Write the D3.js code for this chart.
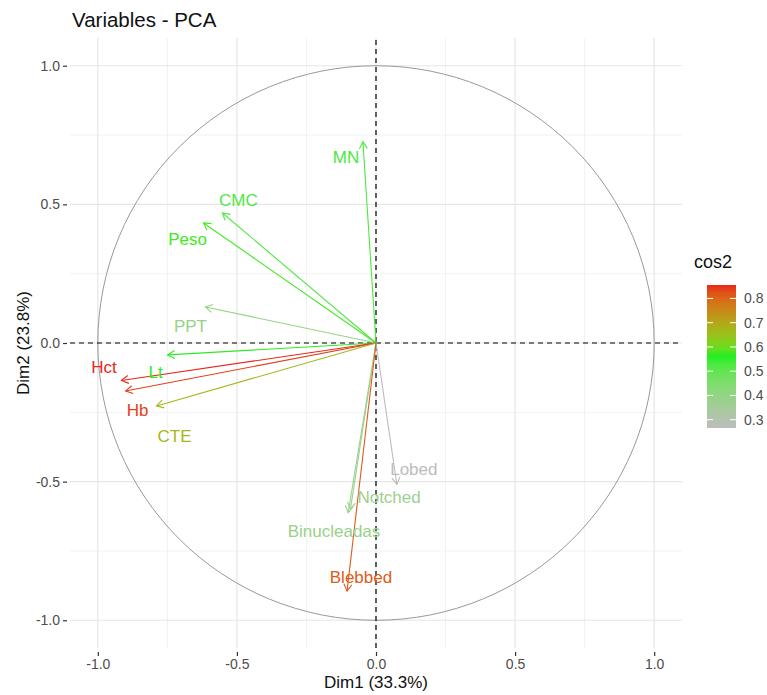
<!DOCTYPE html>
<html lang="en">
<head>
<meta charset="UTF-8">
<title>Variables - PCA</title>
<script src="https://cdn.jsdelivr.net/npm/d3@7"></script>
<style>
  body { margin: 0; background: #fff; }
  svg text { font-family: "Liberation Sans", Arial, sans-serif; }
</style>
</head>
<body>
<svg width="767" height="695"></svg>
<script>
// variable coordinates on Dim1 / Dim2
const vars   = ["MN", "CMC", "Peso", "PPT", "Lt", "Hct", "Hb", "CTE", "Lobed", "Notched", "Binucleadas", "Blebbed"];
const dim1   = [-0.047, -0.552, -0.620, -0.613, -0.749, -0.915, -0.900, -0.789, 0.075, -0.092, -0.100, -0.104];
const dim2   = [0.726, 0.469, 0.433, 0.130, -0.043, -0.135, -0.173, -0.227, -0.510, -0.600, -0.612, -0.895];
// where the (repelled) labels ended up, in data units
const labX   = [-0.108, -0.495, -0.677, -0.667, -0.792, -0.978, -0.857, -0.724, 0.136, 0.047, -0.151, -0.054];
const labY   = [0.668, 0.513, 0.372, 0.061, -0.105, -0.090, -0.242, -0.339, -0.455, -0.556, -0.679, -0.845];
const ticks  = [-1.0, -0.5, 0.0, 0.5, 1.0];
const minor  = [-0.75, -0.25, 0.25, 0.75];
const legendTicks = [0.3, 0.4, 0.5, 0.6, 0.7, 0.8];

const svg = d3.select("svg");

const x = d3.scaleLinear().domain([-1.1, 1.1]).range([70, 682]);
const y = d3.scaleLinear().domain([-1.1, 1.1]).range([648, 38]);

const cos2 = dim1.map((d, i) => d * d + dim2[i] * dim2[i]);
const ext = d3.extent(cos2);
const color = d3.scaleLinear()
    .domain([ext[0], (ext[0] + ext[1]) / 2, ext[1]])
    .range(["#bcbcbc", "#22ee22", "#e8281a"])
    .interpolate(d3.interpolateLab);

const fmt = d => d3.format(".1f")(d).replace("−", "-");

// grid
const grid = svg.append("g");
grid.selectAll(".mx").data(minor).enter().append("line")
    .attr("x1", d => x(d)).attr("x2", d => x(d)).attr("y1", y.range()[0]).attr("y2", y.range()[1])
    .attr("stroke", "#f2f2f2").attr("stroke-width", 1);
grid.selectAll(".my").data(minor).enter().append("line")
    .attr("y1", d => y(d)).attr("y2", d => y(d)).attr("x1", x.range()[0]).attr("x2", x.range()[1])
    .attr("stroke", "#f2f2f2").attr("stroke-width", 1);
grid.selectAll(".gx").data(ticks).enter().append("line")
    .attr("x1", d => x(d)).attr("x2", d => x(d)).attr("y1", y.range()[0]).attr("y2", y.range()[1])
    .attr("stroke", "#e6e6e6").attr("stroke-width", 1.2);
grid.selectAll(".gy").data(ticks).enter().append("line")
    .attr("y1", d => y(d)).attr("y2", d => y(d)).attr("x1", x.range()[0]).attr("x2", x.range()[1])
    .attr("stroke", "#e6e6e6").attr("stroke-width", 1.2);

// axes
const xAxis = svg.append("g").attr("transform", "translate(0,652)")
    .call(d3.axisBottom(x).tickValues(ticks).tickFormat(fmt).tickSize(4).tickPadding(3));
const yAxis = svg.append("g").attr("transform", "translate(67,0)")
    .call(d3.axisLeft(y).tickValues(ticks).tickFormat(fmt).tickSize(4).tickPadding(3));
[xAxis, yAxis].forEach(a => {
  a.select(".domain").remove();
  a.selectAll(".tick line").attr("stroke", "#333").attr("stroke-width", 1.2);
  a.selectAll(".tick text").attr("fill", "#4d4d4d").style("font-size", "14px");
});

// unit circle
svg.append("ellipse")
    .attr("cx", x(0)).attr("cy", y(0))
    .attr("rx", x(1) - x(0)).attr("ry", y(0) - y(1))
    .attr("fill", "none").attr("stroke", "#999").attr("stroke-width", 1);

// dashed zero lines
svg.append("line").attr("x1", x.range()[0]).attr("x2", x.range()[1]).attr("y1", y(0)).attr("y2", y(0))
    .attr("stroke", "#000").attr("stroke-width", 1.2).attr("stroke-dasharray", "5,4");
svg.append("line").attr("x1", x(0)).attr("x2", x(0)).attr("y1", y.range()[0]).attr("y2", y.range()[1])
    .attr("stroke", "#000").attr("stroke-width", 1.2).attr("stroke-dasharray", "5,4");

// arrows
const arrows = svg.append("g").selectAll("g").data(vars).enter().append("g")
    .attr("stroke", (d, i) => color(cos2[i])).attr("fill", "none").attr("stroke-width", 1.1);
arrows.append("line")
    .attr("x1", x(0)).attr("y1", y(0))
    .attr("x2", (d, i) => x(dim1[i])).attr("y2", (d, i) => y(dim2[i]));
arrows.append("path").attr("d", (d, i) => {
  const tx = x(dim1[i]), ty = y(dim2[i]);
  const a = Math.atan2(ty - y(0), tx - x(0));
  const L = 8, w = Math.PI / 6;
  return "M" + (tx - L * Math.cos(a - w)) + "," + (ty - L * Math.sin(a - w)) +
         "L" + tx + "," + ty +
         "L" + (tx - L * Math.cos(a + w)) + "," + (ty - L * Math.sin(a + w));
});

// labels
svg.append("g").selectAll("text").data(vars).enter().append("text")
    .attr("x", (d, i) => x(labX[i])).attr("y", (d, i) => y(labY[i]))
    .attr("text-anchor", "middle").attr("dominant-baseline", "central")
    .attr("fill", (d, i) => color(cos2[i]))
    .style("font-size", "17px")
    .text(d => d);

// titles
svg.append("text").attr("x", 72).attr("y", 27).style("font-size", "20.5px").attr("fill", "#111")
    .text("Variables - PCA");
svg.append("text").attr("x", x(0)).attr("y", 688).attr("text-anchor", "middle")
    .style("font-size", "17px").attr("fill", "#111").text("Dim1 (33.3%)");
svg.append("text").attr("transform", `translate(29,${y(0)}) rotate(-90)`).attr("text-anchor", "middle")
    .style("font-size", "17px").attr("fill", "#111").text("Dim2 (23.8%)");

// colour bar legend
const ly = d3.scaleLinear().domain(ext).range([428, 285]);
const lx = 707, lw = 29;
const defs = svg.append("defs");
const grad = defs.append("linearGradient").attr("id", "cbar")
    .attr("x1", 0).attr("y1", 1).attr("x2", 0).attr("y2", 0);
d3.range(0, 1.0001, 0.05).forEach(t => {
  grad.append("stop").attr("offset", t).attr("stop-color", color(ext[0] + t * (ext[1] - ext[0])));
});
svg.append("rect").attr("x", lx).attr("y", ly(ext[1])).attr("width", lw)
    .attr("height", ly(ext[0]) - ly(ext[1])).attr("fill", "url(#cbar)");
const lt = svg.append("g").selectAll("g").data(legendTicks).enter().append("g");
lt.append("line").attr("x1", lx).attr("x2", lx + 6).attr("y1", d => ly(d)).attr("y2", d => ly(d))
    .attr("stroke", "#fff").attr("stroke-width", 1);
lt.append("line").attr("x1", lx + lw - 6).attr("x2", lx + lw).attr("y1", d => ly(d)).attr("y2", d => ly(d))
    .attr("stroke", "#fff").attr("stroke-width", 1);
lt.append("text").attr("x", lx + lw + 8).attr("y", d => ly(d)).attr("dominant-baseline", "central")
    .style("font-size", "14px").attr("fill", "#4d4d4d").text(d => d.toFixed(1));
svg.append("text").attr("x", 694).attr("y", 268).style("font-size", "18px").attr("fill", "#111")
    .text("cos2");
</script>
</body>
</html>
